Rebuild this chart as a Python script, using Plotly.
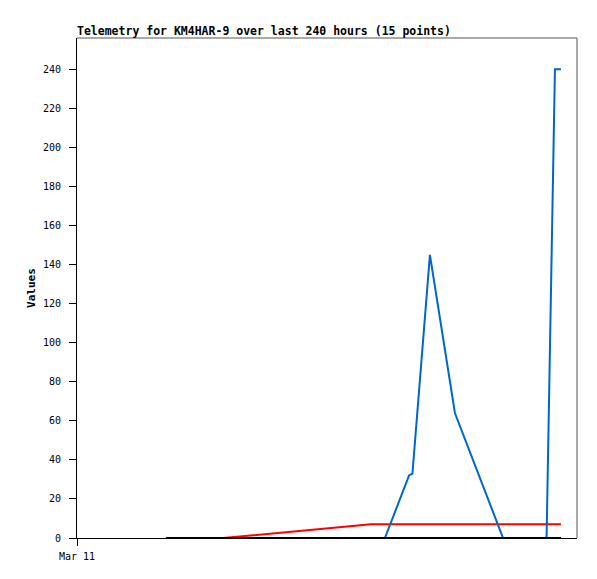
import plotly.graph_objects as go

# hours since Mar 11 00:00
black_x = [42.7, 232.3]
black_y = [0, 0]

red_x = [42.7, 70.1, 141.1, 232.3]
red_y = [0, 0, 7, 7]

blue_x = [42.7, 147.8, 159.4, 161.0, 169.4, 181.4, 204.5, 225.4, 229.4, 232.3]
blue_y = [0, 0, 32, 33, 145, 64, 0, 0, 240, 240]

x_tickvals = [0]
x_ticktext = ["Mar 11"]
y_tickvals = list(range(0, 241, 20))

fig = go.Figure()
fig.add_trace(go.Scatter(x=red_x, y=red_y, mode="lines",
                         line=dict(color="#ff0000", width=2), showlegend=False))
fig.add_trace(go.Scatter(x=blue_x, y=blue_y, mode="lines",
                         line=dict(color="#0066cc", width=2), showlegend=False))
fig.add_trace(go.Scatter(x=black_x, y=black_y, mode="lines",
                         line=dict(color="#000000", width=2), showlegend=False))

mono = "DejaVu Sans Mono"
W, H = 589, 571
fig.update_layout(
    width=W, height=H,
    margin=dict(l=69, r=20, t=30, b=41, autoexpand=False),
    paper_bgcolor="white", plot_bgcolor="white",
    title=dict(text="<b>Telemetry for KM4HAR-9 over last 240 hours (15 points)</b>",
               x=69/W, xanchor="left", y=1-23/H, yanchor="middle",
               font=dict(family=mono, size=11.5, color="black")),
    xaxis=dict(range=[0, 240], tickvals=x_tickvals, ticktext=x_ticktext,
               showgrid=False, zeroline=False, showline=True, linecolor="black",
               linewidth=1, ticks="outside", ticklen=7, tickcolor="black",
               automargin=False, ticklabelstandoff=2,
               tickfont=dict(family=mono, size=10, color="black")),
    yaxis=dict(range=[0, 256], tickvals=y_tickvals,
               showgrid=False, zeroline=False, showline=True, linecolor="black",
               linewidth=1, ticks="outside", ticklen=7, tickcolor="black",
               automargin=False, ticklabelstandoff=6,
               tickfont=dict(family=mono, size=10, color="black"),
               title=dict(text="<b>Values</b>", standoff=5,
                          font=dict(family=mono, size=11, color="black"))),
    shapes=[
        dict(type="line", xref="paper", yref="paper", x0=0, x1=1, y0=1, y1=1,
             line=dict(color="#555555", width=1)),
        dict(type="line", xref="paper", yref="paper", x0=1, x1=1, y0=0, y1=1,
             line=dict(color="#555555", width=1)),
    ],
)

fig.write_html("out.html")
